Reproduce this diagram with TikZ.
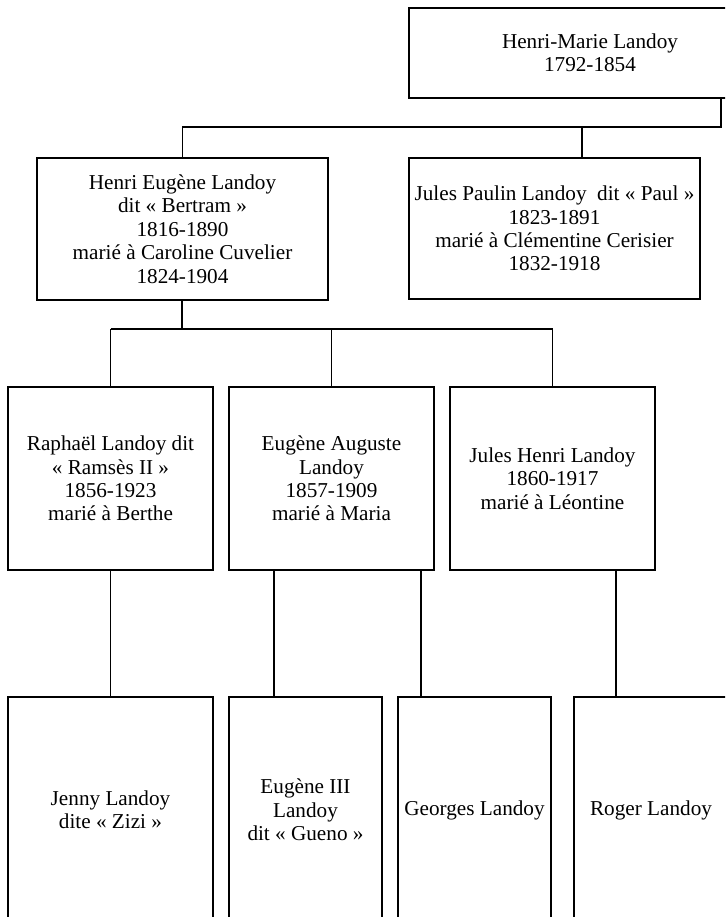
\documentclass[tikz,border=0pt]{standalone}
\usepackage{fontspec}
\setmainfont{Liberation Serif}
\begin{document}
\begin{tikzpicture}[x=0.75pt,y=-0.75pt,
  bx/.style 2 args={draw=black, line width=0.8pt, inner sep=0pt, align=center,
    minimum width=#1*0.75pt, minimum height=#2*0.75pt,
    font=\fontsize{15.9}{17.6}\selectfont},
  link/.style={draw=black, line width=0.8pt}]
\useasboundingbox (0,0) rectangle (725,917);
\clip (0,0) rectangle (725,917);
% generation 1
\node[bx={362}{90}] (hm) at (590,53) {Henri-Marie Landoy\\1792-1854};
% generation 2
\node[bx={291}{142}] (he) at (182.5,229) {Henri Eugène Landoy\\dit « Bertram »\\1816-1890\\marié à Caroline Cuvelier\\1824-1904};
\node[bx={291}{141}] (jp) at (554.5,228.5) {Jules Paulin Landoy\ \ dit « Paul »\\1823-1891\\marié à Clémentine Cerisier\\1832-1918};
% generation 3
\node[bx={205}{183}] (raph) at (110.5,478.5) {Raphaël Landoy dit\\« Ramsès II »\\1856-1923\\marié à Berthe};
\node[bx={205}{183}] (euga) at (331.5,478.5) {Eugène Auguste\\Landoy\\1857-1909\\marié à Maria};
\node[bx={205}{183}] (jh) at (552.5,478.5) {Jules Henri Landoy\\1860-1917\\marié à Léontine};
% generation 4
\node[bx={205}{226}] (jenny) at (110.5,810) {Jenny Landoy\\dite « Zizi »};
\node[bx={153}{226}] (eug3) at (305.5,810) {Eugène III\\Landoy\\dit « Gueno »};
\node[bx={153}{226}] (geo) at (474.5,810) {Georges Landoy};
\node[bx={154}{226}] (roger) at (651,810) {Roger Landoy};
% junction coordinates
\coordinate (j1) at (721,127);
\coordinate (j2) at (582,127);
\coordinate (j3) at (182,329);
\coordinate (k1) at (274,0);
\coordinate (k2) at (421,0);
\coordinate (k3) at (616,0);
% connectors
\draw[link] (hm.south -| j1) -- (j1) -- (j1 -| he.north) -- (he.north);
\draw[link] (j2) -- (jp.north -| j2);
\draw[link] (he.south -| j3) -- (j3);
\draw[link] (j3 -| raph.north) -- (j3 -| jh.north);
\draw[link] (j3 -| raph.north) -- (raph.north);
\draw[link] (j3 -| euga.north) -- (euga.north);
\draw[link] (j3 -| jh.north) -- (jh.north);
\draw[link] (raph.south) -- (jenny.north);
\draw[link] (euga.south -| k1) -- (eug3.north -| k1);
\draw[link] (euga.south -| k2) -- (geo.north -| k2);
\draw[link] (jh.south -| k3) -- (roger.north -| k3);
\end{tikzpicture}
\end{document}
